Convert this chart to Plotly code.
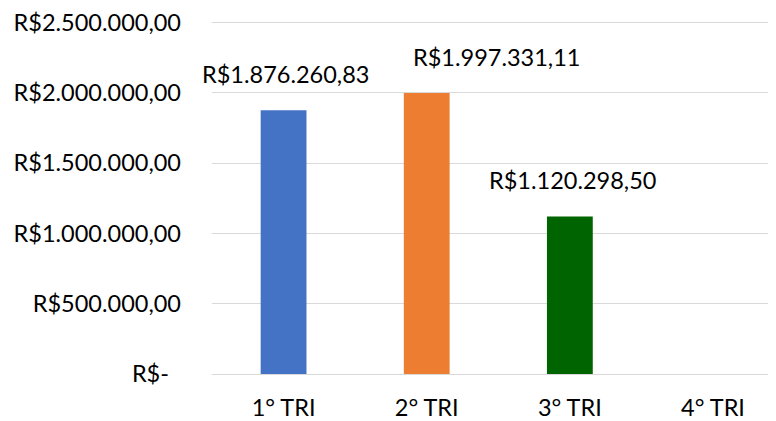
import plotly.graph_objects as go

# dados por trimestre
trimestres = ['1° TRI', '2° TRI', '3° TRI', '4° TRI']
valores = [1876260.83, 1997331.11, 1120298.50, None]
rotulos = ['R$1.876.260,83', 'R$1.997.331,11', 'R$1.120.298,50', '']
cores = ['#4472C4', '#ED7D31', '#006400', '#A5A5A5']

eixo_y_vals = [0, 500000, 1000000, 1500000, 2000000, 2500000]
eixo_y_text = ['R$-\u00a0\u00a0', 'R$500.000,00', 'R$1.000.000,00', 'R$1.500.000,00',
               'R$2.000.000,00', 'R$2.500.000,00']

fonte = 'Lato'
tam = 23.5

fig = go.Figure()
fig.add_trace(go.Bar(
    x=trimestres,
    y=valores,
    marker_color=cores,
    marker_line_width=0,
    width=0.32,
))

# rotulos de dados acima das barras (o do 2° TRI foi deslocado p/ direita, como no Excel)
desloc_x = [2, 70, 3, 0]
for t, v, r, dx in zip(trimestres, valores, rotulos, desloc_x):
    if v is None:
        continue
    fig.add_annotation(x=t, y=v, text=r, showarrow=False, yanchor='middle',
                       xshift=dx, yshift=36,
                       font=dict(family=fonte, size=tam, color='#000000'))

# a pagina tem 8px de margem no body, por isso a figura e um pouco menor
fig.update_layout(
    width=768,
    height=413,
    margin=dict(l=204, r=0, t=11, b=45),
    paper_bgcolor='white',
    plot_bgcolor='white',
    showlegend=False,
    font=dict(family=fonte, size=tam, color='#000000'),
    xaxis=dict(
        range=[-0.5, 3.44],
        showgrid=False,
        showline=False,
        ticks='',
        ticklabelstandoff=17,
    ),
    yaxis=dict(
        range=[0, 2510000],
        tickvals=eixo_y_vals,
        ticktext=eixo_y_text,
        showgrid=True,
        gridcolor='#D9D9D9',
        gridwidth=1,
        zeroline=True,
        zerolinecolor='#D9D9D9',
        zerolinewidth=1,
        showline=False,
        ticks='',
        ticklabelstandoff=30,
        ticklabeloverflow='allow',
    ),
)

fig.write_html('out.html')
